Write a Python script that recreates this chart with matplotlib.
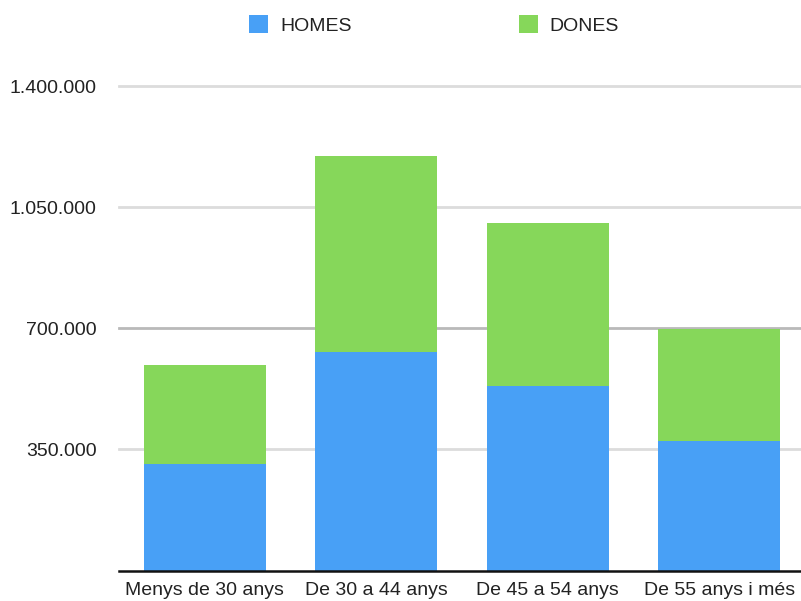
import matplotlib.pyplot as plt
from matplotlib.patches import Patch
from matplotlib.ticker import FuncFormatter

categories = ['Menys de 30 anys', 'De 30 a 44 anys', 'De 45 a 54 anys', 'De 55 anys i més']
homes = [309000, 630000, 532000, 374000]
dones = [286000, 569000, 471000, 325000]
yticks = [350000, 700000, 1050000, 1400000]

blue = '#48A0F6'
green = '#86D75A'

plt.rcParams['font.family'] = ['Liberation Sans', 'DejaVu Sans']

fig = plt.figure(figsize=(8.01, 6.01), dpi=100)
ax = fig.add_axes([119 / 801, (601 - 570.5) / 601, 682 / 801, (570.5 - 86) / 601])

x = range(len(categories))
ax.bar(x, homes, width=0.71, color=blue, edgecolor='none', zorder=3)
ax.bar(x, dones, width=0.71, bottom=homes, color=green, edgecolor='none', zorder=3)

ax.set_xlim(-0.5, 682 / 171.5 - 0.5)
ax.set_ylim(0, 1400000)
ax.set_yticks(yticks)
ax.yaxis.set_major_formatter(FuncFormatter(lambda v, p: f'{int(v):,}'.replace(',', '.')))
ax.set_xticks(list(x))
ax.set_xticklabels(categories)

# horizontal grid lines, the 700.000 one is darker
for t in yticks:
    ax.axhline(t, color='#b9b9b9' if t == 700000 else '#dcdcdc', lw=2, zorder=1, clip_on=False)

for s in ['top', 'right', 'left']:
    ax.spines[s].set_visible(False)
ax.spines['bottom'].set_color('#111111')
ax.spines['bottom'].set_linewidth(1.8)
ax.spines['bottom'].set_zorder(4)

ax.tick_params(axis='both', length=0, labelsize=14, colors='#222222')
ax.tick_params(axis='y', pad=16)
ax.tick_params(axis='x', pad=8)

handles = [Patch(facecolor=blue, edgecolor='none'), Patch(facecolor=green, edgecolor='none')]
fig.legend(handles, ['HOMES', 'DONES'], loc='center', bbox_to_anchor=(434 / 801, 1 - 25 / 601),
           ncol=2, frameon=False, fontsize=14, handlelength=1.0, handleheight=1.0,
           handletextpad=0.6, columnspacing=8.6, labelcolor='#222222')

fig.savefig('out.png', dpi=100)
